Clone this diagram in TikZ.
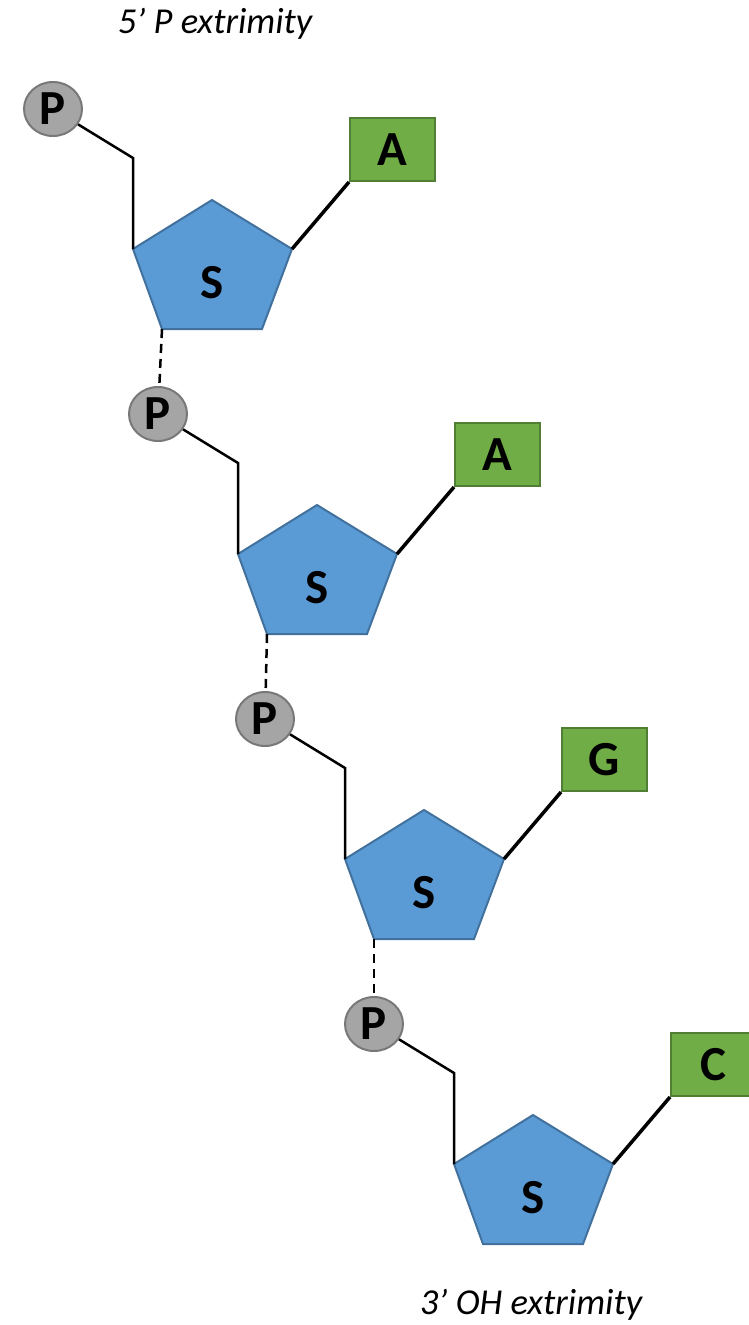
\documentclass[tikz,border=0pt]{standalone}
\usepackage{fontspec}
\setmainfont{Carlito}
\usetikzlibrary{shapes.geometric}
\definecolor{sugarfill}{HTML}{5B9BD5}
\definecolor{sugardraw}{HTML}{41719C}
\definecolor{basefill}{HTML}{70AD47}
\definecolor{basedraw}{HTML}{507E32}
\definecolor{phosfill}{HTML}{A5A5A5}
\definecolor{phosdraw}{HTML}{787878}
\tikzset{
  sugar/.style={fill=sugarfill, draw=sugardraw, line width=2pt, line join=miter},
  letter/.style={inner sep=0pt, font=\fontsize{49}{49}\selectfont\bfseries},
  phos/.style={ellipse, draw=phosdraw, fill=phosfill, line width=2pt, minimum width=58pt, minimum height=54pt, inner sep=0pt, font=\fontsize{49}{49}\selectfont\bfseries},
  basebox/.style={rectangle, draw=basedraw, fill=basefill, line width=2pt, minimum width=85pt, minimum height=63pt, inner sep=0pt, font=\fontsize{49}{49}\selectfont\bfseries},
  bond/.style={draw=black, line width=2.5pt},
  thickbond/.style={draw=black, line width=3.5pt},
  dashbond/.style={draw=black, line width=2.5pt, dash pattern=on 9pt off 6pt},
  title/.style={inner sep=0pt, font=\fontsize{36.5}{36.5}\selectfont\itshape}
}
\newcommand\nucleotide[4]{%
  \begin{scope}[shift={(#2,#3)}]
    \coordinate (t#1) at (0,0);
    \coordinate (l#1) at (-79,49);
    \coordinate (r#1) at (80,49);
    \coordinate (bl#1) at (-50,129);
    \coordinate (br#1) at (50,129);
    \path[sugar] (t#1) -- (r#1) -- (br#1) -- (bl#1) -- (l#1) -- cycle;
    \node[letter] (s#1) at (0,83) {S};
    \node[phos] (p#1) at (-159,-91) {P};
    \coordinate (e#1) at (-79,-42);
    \node[basebox] (b#1) at (180.5,-50.5) {#4};
    \draw[bond] (p#1) -- (e#1) -- (l#1);
    \draw[thickbond] (r#1) -- (b#1.south west);
  \end{scope}}
\begin{document}
\begin{tikzpicture}[x=1pt,y=-1pt]
  \useasboundingbox (0,0) rectangle (749,1325);
  \clip (0,0) rectangle (749,1325);
  \nucleotide{1}{212}{200}{A}
  \nucleotide{2}{317}{505}{A}
  \nucleotide{3}{424}{810}{G}
  \nucleotide{4}{533}{1115}{C}
  \draw[dashbond] (bl1) -- (p2);
  \draw[dashbond] (bl2) -- (p3);
  \draw[dashbond] (bl3) -- (p4);
  \node[title] (top) at (215,24) {5’ P extrimity};
  \node[title] (bottom) at (531,1305) {3’ OH extrimity};
\end{tikzpicture}
\end{document}
